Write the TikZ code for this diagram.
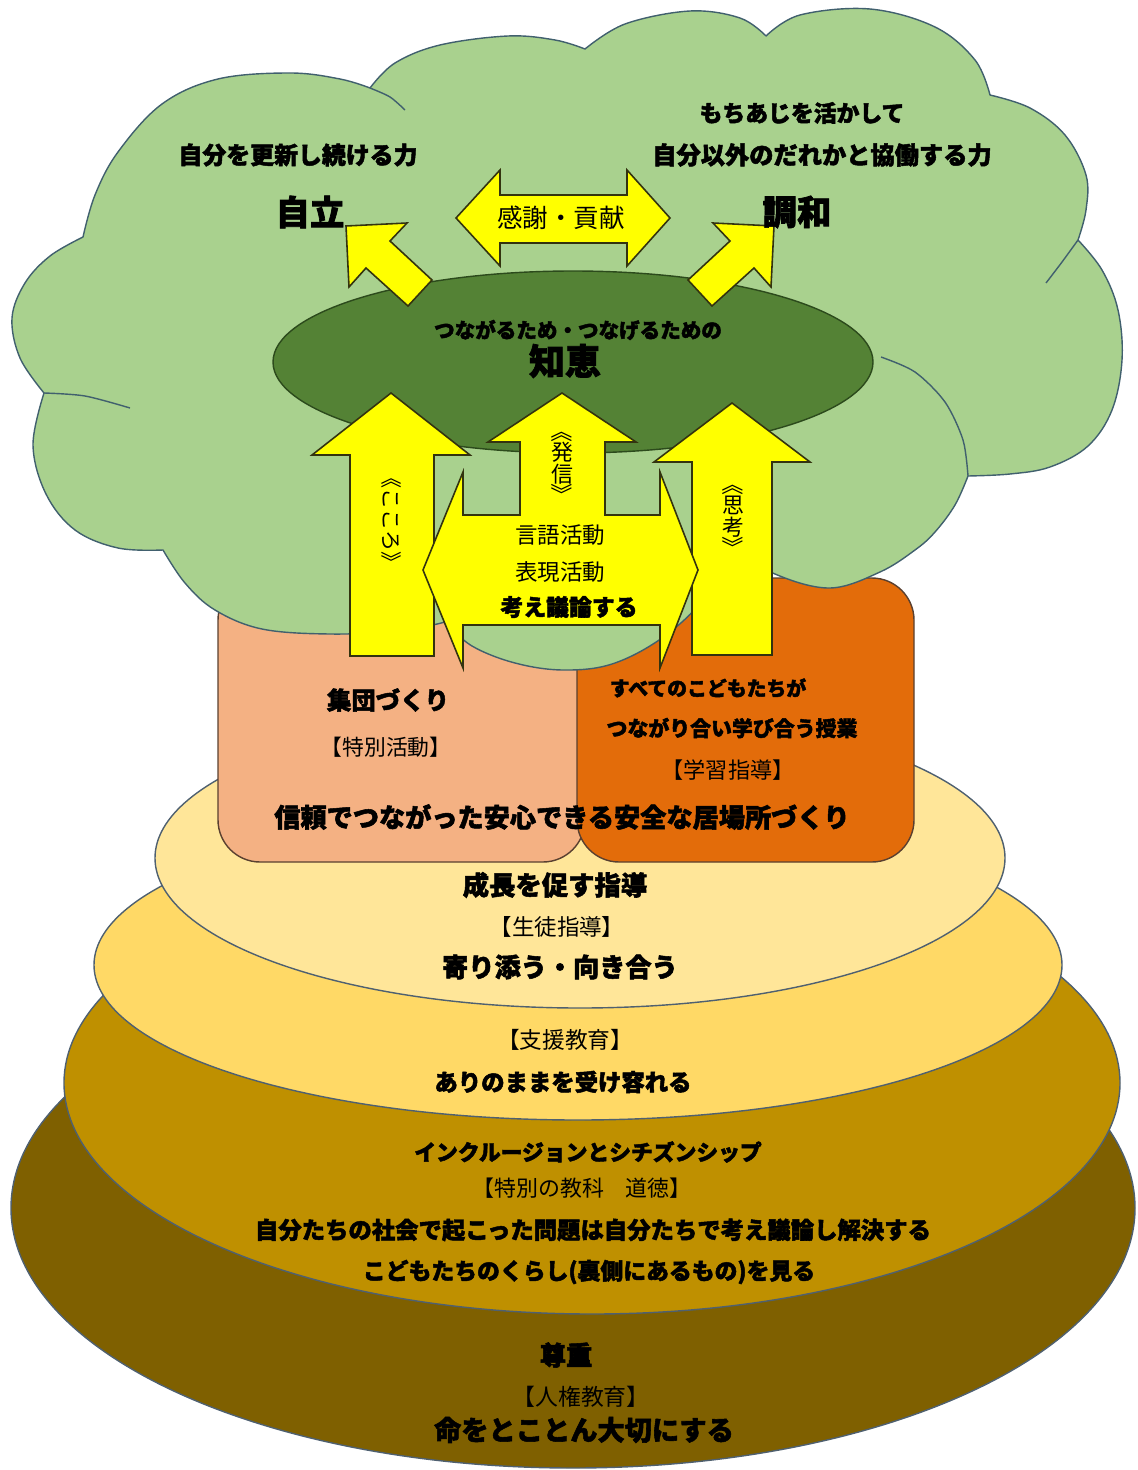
\documentclass[tikz,border=0pt]{standalone}
\usepackage{fontspec}
\setmainfont{Noto Sans CJK JP}[BoldFeatures={FakeBold=2}]
\newcommand{\myfs}[1]{\fontsize{#1pt}{#1pt}\selectfont}
\definecolor{cloudg}{HTML}{A9D18E}
\definecolor{cloudline}{HTML}{41606E}
\definecolor{darkg}{HTML}{548235}
\definecolor{darkgline}{HTML}{2C4A1C}
\definecolor{yel}{HTML}{FFFF00}
\definecolor{arrline}{HTML}{33330F}
\definecolor{salmon}{HTML}{F4B183}
\definecolor{orng}{HTML}{E36C0A}
\definecolor{boxline}{HTML}{5A4030}
\definecolor{layA}{HTML}{FFE699}
\definecolor{layB}{HTML}{FFD966}
\definecolor{layC}{HTML}{BF9000}
\definecolor{layD}{HTML}{7F6000}
\definecolor{layline}{HTML}{4F6070}
\tikzset{
  layer/.style={fill=#1, draw=layline, line width=0.8pt},
  boxshape/.style={fill=#1, draw=boxline, line width=0.8pt, rounded corners=24pt},
  yarrow/.style={fill=yel, draw=arrline, line width=0.9pt, line join=miter},
  tx/.style={inner sep=0pt, text=black},
  vert/.style={tx, align=center, font=\myfs{12.5}},
}
\begin{document}
\begin{tikzpicture}[x=0.02cm, y=-0.02cm]
\useasboundingbox (0,0) rectangle (1137,1470);
% layers
\path[layer=layD] (573,1208) ellipse [x radius=562, y radius=260];
\path[layer=layC] (592,1083) ellipse [x radius=528, y radius=231];
\path[layer=layB] (578,965) ellipse [x radius=484, y radius=155];
\path[layer=layA] (580,858) ellipse [x radius=425, y radius=150];
% boxes
\path[boxshape=salmon] (218,578) rectangle (585,862);
\path[boxshape=orng] (577,578) rectangle (914,862);
% cloud
\path[fill=cloudg, draw=cloudline, line width=0.8pt, line join=round]
  plot[smooth, tension=0.6] coordinates {(83,237) (95,195) (118,152) (162,104) (218,79) (290,73) (340,79) (370,88)}
  -- plot[smooth, tension=0.6] coordinates {(370,88) (395,63) (440,45) (508,36) (555,40) (585,49)}
  -- plot[smooth, tension=0.6] coordinates {(585,49) (625,24) (690,11) (740,18) (766,36)}
  -- plot[smooth, tension=0.6] coordinates {(766,36) (800,15) (870,9) (935,27) (975,60) (990,95)}
  -- plot[smooth, tension=0.6] coordinates {(990,95) (1030,108) (1065,135) (1086,175) (1086,210) (1078,240)}
  -- plot[smooth, tension=0.6] coordinates {(1078,240) (1102,270) (1118,310) (1122,360) (1112,410) (1088,446) (1050,467) (1010,474) (968,476)}
  -- plot[smooth, tension=0.6] coordinates {(968,476) (955,505) (935,532) (915,550) (880,572) (830,588) (775,574) (735,548)}
  -- plot[smooth, tension=0.6] coordinates {(735,548) (705,598) (662,638) (612,664) (563,670) (515,663) (472,646) (445,622)}
  -- plot[smooth, tension=0.6] coordinates {(445,622) (400,631) (330,634) (262,629) (215,610) (185,583) (163,550)}
  -- plot[smooth, tension=0.6] coordinates {(163,550) (118,548) (75,530) (46,494) (33,445) (44,393)}
  -- plot[smooth, tension=0.6] coordinates {(44,393) (20,358) (12,318) (25,283) (50,256) (83,237)}
  -- cycle;
\draw[cloudline, line width=0.8pt] plot[smooth] coordinates {(370,88) (390,97) (405,110)};
\draw[cloudline, line width=0.8pt] plot[smooth] coordinates {(1078,240) (1062,262) (1046,283)};
\draw[cloudline, line width=0.8pt] plot[smooth] coordinates {(968,476) (963,440) (945,402) (915,372) (881,357)};
\draw[cloudline, line width=0.8pt] plot[smooth] coordinates {(44,393) (85,396) (130,408)};
% central ellipse
\path[fill=darkg, draw=darkgline, line width=0.8pt] (573,362) ellipse [x radius=300, y radius=91];
% diagonal arrows
\path[yarrow] (432,280) -- (390,241) -- (407,223) -- (346,226) -- (349,287) -- (366,268) -- (408,306) -- cycle;
\path[yarrow] (688,280) -- (730,241) -- (713,223) -- (774,226) -- (771,287) -- (754,268) -- (712,306) -- cycle;
% double arrow top
\path[yarrow] (456,218) -- (500,170) -- (500,195) -- (627,195) -- (627,170) -- (670,218) -- (627,266) -- (627,243) -- (500,243) -- (500,266) -- cycle;
% up arrows
\path[yarrow] (391,393) -- (470,455) -- (434,455) -- (434,656) -- (350,656) -- (350,455) -- (312,455) -- cycle;
\path[yarrow] (732,403) -- (810,462) -- (772,462) -- (772,655) -- (692,655) -- (692,462) -- (654,462) -- cycle;
% combined centre arrow
\path[yarrow] (423,570) -- (463,472) -- (463,515) -- (520,515) -- (520,442) -- (488,442) -- (562,393) -- (636,442) -- (605,442) -- (605,515) -- (660,515) -- (660,472) -- (698,570) -- (660,668) -- (660,625) -- (463,625) -- (463,668) -- cycle;
% cloud texts
\node[tx, font=\myfs{13.6}\bfseries] (koushin) at (298,155) {自分を更新し続ける力};
\node[tx, font=\myfs{13}\bfseries] (mochiaji) at (802,113) {もちあじを活かして};
\node[tx, font=\myfs{13.8}\bfseries] (kyodo) at (822,155) {自分以外のだれかと協働する力};
\node[tx, font=\myfs{19.6}\bfseries] (jiritsu) at (310,212) {自立};
\node[tx, font=\myfs{19.6}\bfseries] (chowa) at (797,212) {調和};
\node[tx, font=\myfs{14.5}] (kansha) at (561,218) {感謝・貢献};
\node[tx, font=\myfs{11.7}\bfseries] (tsunagaru) at (578,330) {つながるため・つなげるための};
\node[tx, font=\myfs{20.5}\bfseries] (chie) at (565,361) {知恵};
% vertical labels
\node[tx, font=\myfs{12}, rotate=-90] (kokoro) at (392,520) {《こころ》};
\node[vert] (hasshin) at (562,463) {\rotatebox[origin=c]{-90}{《}\\[-1pt]発\\信\\[-1pt]\rotatebox[origin=c]{-90}{》}};
\node[vert] (shikou) at (733,516) {\rotatebox[origin=c]{-90}{《}\\[-1pt]思\\考\\[-1pt]\rotatebox[origin=c]{-90}{》}};
\node[tx, font=\myfs{12.8}] (gengo) at (560,535) {言語活動};
\node[tx, font=\myfs{12.8}] (hyogen) at (560,572) {表現活動};
\node[tx, font=\myfs{13}\bfseries] (kangae) at (569,607) {考え議論する};
% boxes texts
\node[tx, font=\myfs{13.9}\bfseries] (shudan) at (388,700) {集団づくり};
\node[tx, font=\myfs{12.4}] (tokkatsu) at (386,747) {【特別活動】};
\node[tx, font=\myfs{11.3}\bfseries] (subete) at (708,688) {すべてのこどもたちが};
\node[tx, font=\myfs{11.9}\bfseries] (jugyo) at (732,728) {つながり合い学び合う授業};
\node[tx, font=\myfs{12.6}] (gakushu) at (728,770) {【学習指導】};
\node[tx, font=\myfs{14.9}\bfseries] (shinrai) at (562,817) {信頼でつながった安心できる安全な居場所づくり};
% layer texts
\node[tx, font=\myfs{15}\bfseries] (seicho) at (555,885) {成長を促す指導};
\node[tx, font=\myfs{12.8}] (seito) at (557,927) {【生徒指導】};
\node[tx, font=\myfs{14.9}\bfseries] (yorisou) at (560,967) {寄り添う・向き合う};
\node[tx, font=\myfs{12.9}] (shien) at (565,1040) {【支援教育】};
\node[tx, font=\myfs{13.3}\bfseries] (arinomama) at (563,1082) {ありのままを受け容れる};
\node[tx, font=\myfs{12.4}\bfseries] (inclusion) at (588,1152) {インクルージョンとシチズンシップ};
\node[tx, font=\myfs{12.5}] (dotoku) at (582,1188) {【特別の教科　道徳】};
\node[tx, font=\myfs{13.3}\bfseries] (jibuntachi) at (593,1230) {自分たちの社会で起こった問題は自分たちで考え議論し解決する};
\node[tx, font=\myfs{13}\bfseries] (kurashi) at (589,1272) {こどもたちのくらし(裏側にあるもの)を見る};
\node[tx, font=\myfs{15}\bfseries] (sonchou) at (566,1355) {尊重};
\node[tx, font=\myfs{13}] (jinken) at (581,1397) {【人権教育】};
\node[tx, font=\myfs{15.5}\bfseries] (inochi) at (584,1430) {命をとことん大切にする};
\end{tikzpicture}
\end{document}
